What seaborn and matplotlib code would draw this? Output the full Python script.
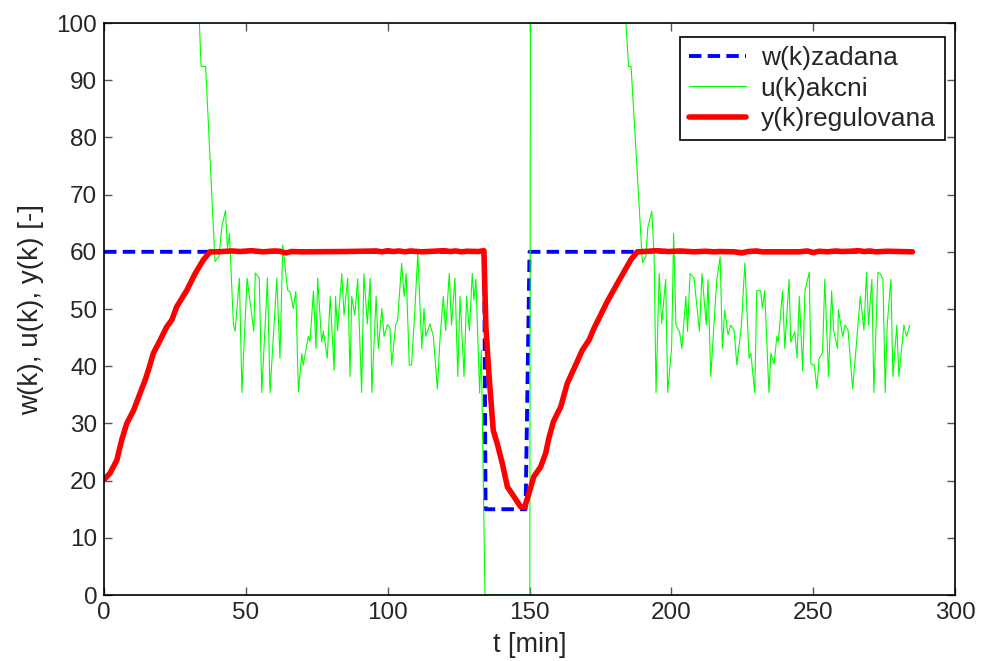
import pandas as pd
import matplotlib
matplotlib.use('Agg')
import matplotlib.pyplot as plt
import seaborn as sns

# w(k) - setpoint
w_t = [0, 134.0, 134.5, 148.6, 150.0, 285]
w_val = [60, 60, 15, 15, 60, 60]

# u(k) - control action
u_t = [0, 33.6, 34.2, 35.8, 39.1, 40.5, 41.5, 42.8, 43.5, 44.2, 45.6, 46.2, 47.7, 48.6,
       50.4, 52.8, 53.3, 54.7, 55.6, 57.6, 58.5, 60.9, 62.0, 63.0, 64.7, 65.6, 66.7, 67.6,
       68.5, 69.7, 70.2, 72.0, 72.6, 73.8, 74.7, 75.3, 76.7, 77.3, 78.7, 79.7, 81.1, 81.6,
       82.3, 83.8, 84.6, 85.9, 86.7, 87.3, 88.4, 89.4, 90.8, 91.6, 92.8, 93.8, 94.4, 95.9,
       96.7, 97.9, 98.7, 99.9, 100.8, 101.4, 102.8, 103.5, 104.9, 105.8, 106.5, 107.6,
       108.4, 109.6, 110.6, 112.0, 112.8, 113.4, 114.9, 116.1, 117.5, 118.4, 119.6, 120.4,
       121.7, 122.5, 123.7, 124.7, 125.5, 126.9, 127.8, 128.8, 129.8, 130.4, 131.1, 132.4,
       133.0, 134.3, 150.1, 150.3, 184.0, 184.9, 185.8, 189.8, 191.0, 191.7, 193.1, 193.9,
       194.6, 195.7, 196.6, 198.0, 198.7, 200.1, 200.8, 201.6, 202.9, 203.7, 205.1, 205.7,
       206.6, 208.0, 209.9, 210.8, 212.3, 212.9, 213.9, 216.0, 217.2, 218.0, 218.8, 220.0,
       220.9, 222.1, 223.1, 224.7, 225.9, 227.4, 228.0, 229.4, 230.1, 231.5, 232.1, 232.9,
       234.4, 235.1, 236.2, 237.2, 237.7, 239.2, 240.0, 241.5, 242.1, 243.5, 244.3, 245.1,
       246.3, 247.1, 248.6, 249.2, 250.4, 251.3, 252.1, 253.3, 254.1, 255.4, 256.5, 257.2,
       258.6, 258.9, 260.4, 261.2, 262.3, 263.9, 265.0, 266.6, 267.9, 268.8, 269.5, 270.7,
       271.4, 272.8, 273.6, 274.6, 275.4, 276.1, 277.4, 278.1, 279.5, 280.2, 282.0, 282.9,
       284.1]
u_val = [100, 100, 92.4, 92.4, 58.3, 59.2, 64.4, 67.2, 60.6, 63.2, 47.2, 46.1, 55.4, 35.4,
         55.4, 46.1, 56.3, 55.4, 35.4, 55.4, 35.4, 55.4, 41.4, 61.2, 53.3, 53.0, 50.1, 53.1,
         35.5, 42.2, 40.2, 45.2, 44.3, 53.1, 43.1, 55.4, 44.2, 46.1, 41.4, 52.2, 39.3, 52.2,
         46.2, 56.2, 48.9, 55.4, 38.2, 52.2, 48.9, 55.3, 35.4, 56.2, 47.4, 55.4, 35.4, 52.2,
         43.1, 50.1, 45.2, 47.3, 46.6, 40.2, 47.2, 48.1, 58.0, 52.2, 56.2, 40.2,
         40.2, 50.1, 59.9, 43.1, 50.1, 45.2, 47.4, 45.2, 36.0, 44.6, 52.2, 46.2,
         56.2, 47.2, 55.4, 38.2, 52.2, 38.2, 52.2, 46.2, 56.2, 51.6, 55.2, 35.3,
         42.8, 0, 0, 100, 100, 92.4, 92.4, 58.1, 59.1, 64.3, 67.1, 59.7,
         35.4, 56.2, 47.5, 55.2, 35.4, 43.4, 63.2, 47.2, 46.0, 43.1, 52.2, 46.1,
         56.2, 55.4, 46.1, 56.2, 47.2, 55.1, 38.2, 55.1, 59.1, 43.1, 49.8, 45.5,
         47.2, 46.3, 40.2, 47.2, 58.0, 41.4, 42.3, 35.4, 53.2, 53.2, 50.1, 53.2,
         35.4, 42.3, 40.4, 45.2, 44.2, 53.2, 43.1, 55.2, 44.2, 46.0, 41.4, 52.2,
         39.2, 53.2, 56.4, 40.4, 40.2, 36.1, 41.4, 42.3, 55.2, 38.2, 53.2, 46.3,
         43.1, 49.9, 45.2, 47.2, 46.3, 36.1, 42.4, 52.2, 46.3, 56.4, 47.2, 55.2,
         35.4, 56.4, 56.2, 55.2, 35.4, 47.2, 55.2, 38.2, 47.2, 38.2, 47.2, 45.2,
         47.2]

# y(k) - controlled output
y_t = [0, 2.1, 4.5, 6.2, 8.0, 10.4, 12.7, 14.5, 15.6, 17.4, 19.8, 22.1, 23.9, 25.6, 29.2,
       32.1, 35.0, 37.4, 40, 45, 48, 52, 56, 60, 62, 64, 66, 70, 85, 96, 98, 100, 102, 104,
       106, 108, 112, 118, 120, 122, 124, 126, 128, 132, 133.9, 134.6, 135.7, 137.2, 138.6,
       140.4, 142.2, 144.5, 146.9, 148.3, 149.8, 151.5, 153.9, 155.7, 156.8, 158.4, 161.0,
       163.3, 165.7, 168.6, 171.0, 172.7, 175.1, 177.4, 181.0, 183.3, 185.7, 188.0, 192,
       195, 199, 203, 208, 212, 215, 217, 222, 225, 227, 230, 232, 245, 248, 250, 252, 255,
       258, 260, 263, 266, 268, 270, 272, 276, 285]
y_val = [20.2, 21.3, 23.6, 27.1, 30.0, 32.3, 35.3, 37.6, 39.3, 42.3, 44.6, 46.9, 48.1, 50.4,
         53.3, 56.2, 58.6, 60.0, 60.0, 60.15, 60.05, 60.2, 60.0, 60.15, 60.1, 59.8, 60.05, 60.0,
         60.05, 60.15, 60.0, 60.2, 60.05, 60.15, 60.0, 60.15, 60.0, 60.15, 60.2, 60.05, 60.15,
         60.0, 60.1, 60.05, 60.2, 47.0, 38.5, 28.8, 26.5, 23.0, 18.9, 17.2, 15.4, 15.4, 17.8,
         20.7, 22.4, 24.8, 27.4, 30.3, 32.9, 37.0, 39.6, 42.8, 44.6, 46.6, 49.0, 51.3,
         54.5, 56.5, 58.6, 60.0, 60.1, 60.2, 60.05, 60.15, 60.0, 60.1, 60.0, 60.05, 60.0,
         59.8, 60.05, 60.15, 60.0, 60.0, 60.15, 59.85, 60.1, 60.0, 60.15, 60.05, 60.1, 60.2,
         60.05, 60.15, 60.0, 60.1, 60.0]

sns.set_style('ticks')
plt.rcParams['font.family'] = ['Liberation Sans', 'DejaVu Sans']

fig = plt.figure(figsize=(9.82, 6.61), dpi=100)
ax = fig.add_axes([0.106, 0.0998, 0.8665, 0.8654])

w_df = pd.DataFrame({'t': w_t, 'v': w_val})
u_df = pd.DataFrame({'t': u_t, 'v': u_val})
y_df = pd.DataFrame({'t': y_t, 'v': y_val})

sns.lineplot(data=w_df, x='t', y='v', ax=ax, color='#0000ff', lw=2.8, estimator=None,
             sort=False, label='w(k)zadana')
ax.lines[-1].set_dashes((3.2, 1.6))
sns.lineplot(data=u_df, x='t', y='v', ax=ax, color='#00ff00', lw=0.8, estimator=None,
             sort=False, label='u(k)akcni')
sns.lineplot(data=y_df, x='t', y='v', ax=ax, color='#ff0000', lw=4.0, estimator=None,
             sort=False, label='y(k)regulovana')

ax.set_xlim(0, 300)
ax.set_ylim(0, 100)
ax.set_xticks(range(0, 301, 50))
ax.set_yticks(range(0, 101, 10))
ax.tick_params(direction='in', length=6, width=1, top=True, right=True,
               labelsize=17.5, color='#555555', pad=5)
for s in ax.spines.values():
    s.set_linewidth(1.2)
    s.set_color('black')
ax.set_xlabel('t [min]', fontsize=19.5, labelpad=6)
ax.set_ylabel('w(k), u(k), y(k) [-]', fontsize=20, labelpad=9)

leg = ax.legend(loc='upper right', bbox_to_anchor=(0.988, 0.9755), borderaxespad=0,
                fontsize=19, frameon=True, fancybox=False, framealpha=1,
                edgecolor='black', handlelength=2.15, handletextpad=0.55,
                borderpad=0.35, labelspacing=0.24)
leg.get_frame().set_linewidth(1.2)

fig.savefig('out.png', dpi=100)
